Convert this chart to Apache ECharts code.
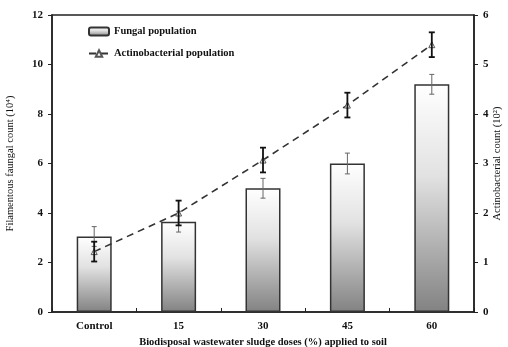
<!DOCTYPE html>
<html>
<head>
<meta charset="utf-8">
<script src="https://cdn.jsdelivr.net/npm/echarts@6/dist/echarts.min.js"></script>
<style>
  html, body { margin: 0; padding: 0; background: #fff; }
  #chart { width: 508px; height: 347px; }
</style>
</head>
<body>
<div id="chart"></div>
<script>
// Sludge dose treatments
const categories = ['Control', '15', '30', '45', '60'];
// Filamentous fungal count (10^4), left axis
const fungal = [3.05, 3.65, 5.0, 6.0, 9.2];
const fungalErr = [0.4, 0.42, 0.4, 0.42, 0.4];
// Actinobacterial count (10^2), right axis
const actino = [1.22, 2.0, 3.07, 4.18, 5.4];
const actinoErr = [0.2, 0.25, 0.25, 0.25, 0.25];

const leftTicks = { min: 0, max: 12, interval: 2 };
const rightTicks = { min: 0, max: 6, interval: 1 };

const serif = '"Liberation Serif", "DejaVu Serif", serif';

function errorBars(values, errs) {
  return values.map((v, i) => [i, v - errs[i], v + errs[i]]);
}

function errorRenderer(color, width, capHalf) {
  return function (params, api) {
    const x = api.value(0);
    const lo = api.coord([x, api.value(1)]);
    const hi = api.coord([x, api.value(2)]);
    const style = { stroke: color, lineWidth: width, fill: null };
    return {
      type: 'group',
      children: [
        { type: 'line', shape: { x1: lo[0], y1: lo[1], x2: hi[0], y2: hi[1] }, style },
        { type: 'line', shape: { x1: lo[0] - capHalf, y1: lo[1], x2: lo[0] + capHalf, y2: lo[1] }, style },
        { type: 'line', shape: { x1: hi[0] - capHalf, y1: hi[1], x2: hi[0] + capHalf, y2: hi[1] }, style }
      ]
    };
  };
}

const barFill = new echarts.graphic.LinearGradient(0, 0, 0, 1, [
  { offset: 0, color: '#ffffff' },
  { offset: 0.4, color: '#e2e2e2' },
  { offset: 1, color: '#828282' }
]);

const axisLine = { show: true, lineStyle: { color: '#222', width: 1.5 } };
const tickLabel = { color: '#111', fontFamily: serif, fontWeight: 'bold', fontSize: 11 };
const nameStyle = { color: '#111', fontFamily: serif, fontSize: 10.5 };

const chart = echarts.init(document.getElementById('chart'), null, { renderer: 'canvas' });

chart.setOption({
  animation: false,
  backgroundColor: '#fff',
  grid: {
    left: 52, right: 34, top: 15, bottom: 35,
    outerBoundsMode: 'none',
    show: true, borderColor: '#222', borderWidth: 1.5, backgroundColor: 'transparent'
  },
  legend: {
    orient: 'vertical',
    left: 83,
    top: 21,
    itemGap: 11,
    itemWidth: 20,
    itemHeight: 8,
    textStyle: { color: '#111', fontFamily: serif, fontWeight: 'bold', fontSize: 10.5 },
    data: [
      { name: 'Fungal population' },
      { name: 'Actinobacterial population' }
    ]
  },
  xAxis: {
    type: 'category',
    data: categories,
    axisLine,
    axisTick: { show: true, inside: true, length: 4, lineStyle: { color: '#222' } },
    axisLabel: { ...tickLabel, margin: 9 },
    name: 'Biodisposal wastewater sludge doses (%) applied to soil',
    nameLocation: 'middle',
    nameGap: 22,
    nameTextStyle: { ...nameStyle, fontWeight: 'bold' }
  },
  yAxis: [
    {
      type: 'value',
      ...leftTicks,
      position: 'left',
      axisLine,
      axisTick: { show: true, length: 4, lineStyle: { color: '#222' } },
      axisLabel: { ...tickLabel, margin: 9 },
      splitLine: { show: false },
      name: 'Filamentous faungal count (10⁴)',
      nameLocation: 'middle',
      nameRotate: 90,
      nameGap: 36,
      nameTextStyle: nameStyle
    },
    {
      type: 'value',
      ...rightTicks,
      position: 'right',
      axisLine,
      axisTick: { show: true, length: 4, lineStyle: { color: '#222' } },
      axisLabel: { ...tickLabel, margin: 9 },
      splitLine: { show: false },
      name: 'Actinobacterial count (10²)',
      nameLocation: 'middle',
      nameRotate: 90,
      nameGap: 18,
      nameMoveOverlap: false,
      nameTextStyle: nameStyle
    }
  ],
  series: [
    {
      name: 'Fungal population',
      type: 'bar',
      data: fungal,
      barWidth: 35,
      itemStyle: { color: barFill, borderColor: '#333', borderWidth: 1.5 },
      z: 2
    },
    {
      type: 'custom',
      name: 'fungal error',
      data: errorBars(fungal, fungalErr),
      yAxisIndex: 0,
      renderItem: errorRenderer('#666', 1, 2.5),
      encode: { x: 0, y: [1, 2] },
      z: 3,
      silent: true
    },
    {
      name: 'Actinobacterial population',
      type: 'line',
      yAxisIndex: 1,
      data: actino,
      symbol: 'triangle',
      symbolSize: 6,
      itemStyle: { color: '#fff', borderColor: '#555', borderWidth: 1 },
      lineStyle: { color: '#333', width: 1.6, type: [7, 5] },
      z: 4
    },
    {
      type: 'custom',
      name: 'actino error',
      data: errorBars(actino, actinoErr),
      yAxisIndex: 1,
      renderItem: errorRenderer('#111', 1.8, 3),
      encode: { x: 0, y: [1, 2] },
      z: 5,
      silent: true
    }
  ]
});
</script>
</body>
</html>
